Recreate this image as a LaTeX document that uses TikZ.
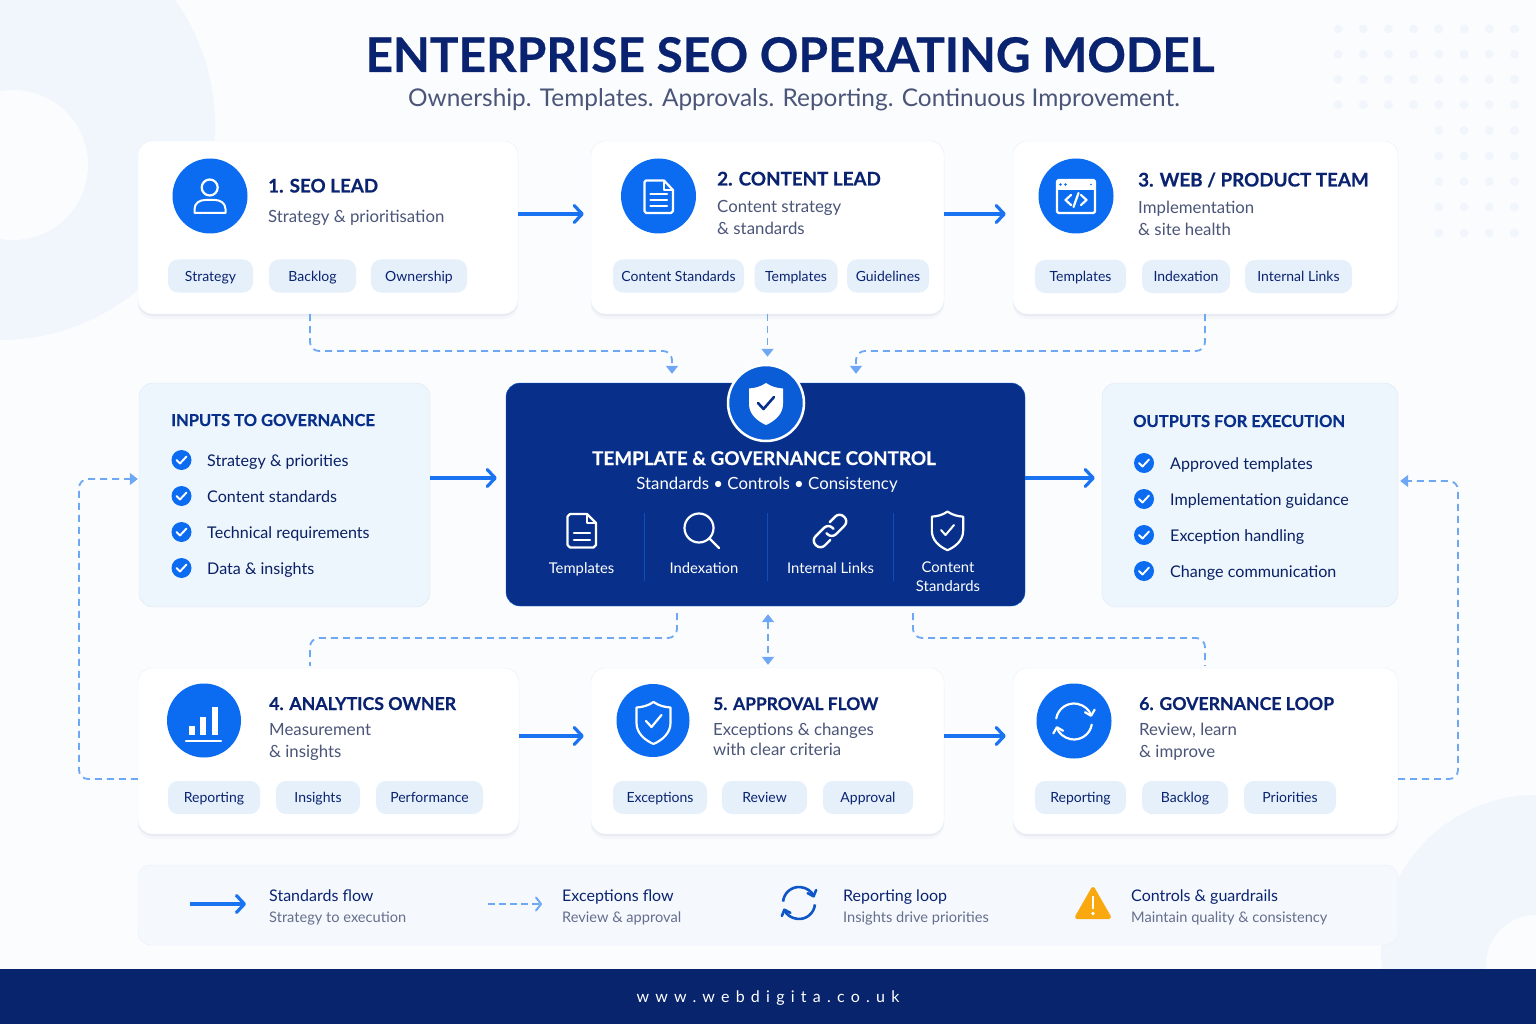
\documentclass[tikz,border=0pt]{standalone}
\usepackage{fontspec}
\setmainfont{Lato}[BoldFeatures={FakeBold=0.5}]
\newfontfamily\spacedfont[LetterSpace=39]{Lato}
\usetikzlibrary{arrows.meta,shadows,calc}

\definecolor{pagebg}{HTML}{FBFCFE}
\definecolor{blobblue}{HTML}{F1F6FD}
\definecolor{navy}{HTML}{0A2370}
\definecolor{brand}{HTML}{0B6CF1}
\definecolor{flowblue}{HTML}{1A73F0}
\definecolor{dashblue}{HTML}{6EA8F5}
\definecolor{chipfill}{HTML}{E5F0FB}
\definecolor{panelfill}{HTML}{EDF5FD}
\definecolor{panelline}{HTML}{DDE9F6}
\definecolor{centrefill}{HTML}{08308A}
\definecolor{footerfill}{HTML}{07246C}
\definecolor{subgrey}{HTML}{4A5578}
\definecolor{loopblue}{HTML}{0E55C8}
\definecolor{warnorange}{HTML}{F9A90F}

\tikzset{
  cardbox/.style={draw=panelline!70!white, fill=white, rounded corners=14pt,
    drop shadow={shadow xshift=0pt, shadow yshift=-2pt, opacity=.05, fill=navy},
    drop shadow={shadow xshift=0pt, shadow yshift=-5pt, opacity=.025, fill=navy}},
  panelbox/.style={draw=panelline, fill=panelfill, rounded corners=14pt},
  headdot/.style={circle, fill=brand, inner sep=0pt},
  cardtitle/.style={anchor=base west, inner sep=0pt, text=navy},
  cardsub/.style={anchor=base west, inner sep=0pt, text=subgrey, font=\fontsize{16.8}{16.8}\selectfont},
  chipbox/.style={fill=chipfill, rounded corners=10pt, inner sep=0pt, text=navy, text height=12pt, text depth=2pt, font=\fontsize{14}{14}\selectfont},
  itemtext/.style={anchor=base west, inner sep=0pt, text=navy!90!black, font=\fontsize{16.1}{16.1}\selectfont},
  centretext/.style={anchor=base, inner sep=0pt, text=white, font=\fontsize{14.8}{14.8}\selectfont},
  legendhead/.style={anchor=base west, inner sep=0pt, text=navy, font=\fontsize{16}{16}\selectfont},
  legendsub/.style={anchor=base west, inner sep=0pt, text=subgrey!85!white, font=\fontsize{14.6}{14.6}\selectfont},
  flowarrow/.style={draw=flowblue, line width=3.2pt, -{Straight Barb[length=8pt,width=17pt,round]}},
  dashline/.style={draw=dashblue, line width=1.8pt, dash pattern=on 7pt off 5pt, rounded corners=9pt},
  dashtip/.style={dashline, -{Triangle[length=8pt,width=12pt]}},
  iconline/.style={draw=white, line width=2.2pt, line join=round, line cap=round},
  checkdot/.pic={
    \fill[brand] (0,0) circle[radius=10];
    \draw[white, line width=1.9pt, line cap=round, line join=round] (-5,0) -- (-1.5,3.5) -- (5,-3.5);
  },
  shieldpath/.pic={
    \path[pic actions] (0,-20) .. controls (6,-16) and (11,-15) .. (17,-14.5) -- (17,1)
      .. controls (17,11) and (9,18) .. (0,22) .. controls (-9,18) and (-17,11) .. (-17,1)
      -- (-17,-14.5) .. controls (-11,-15) and (-6,-16) .. cycle;
  }
}

\begin{document}
\begin{tikzpicture}[x=1pt,y=-1pt]
\useasboundingbox (0,0) rectangle (1536,1024);

%background
\fill[pagebg] (0,0) rectangle (1536,1024);
\begin{scope}
\clip (0,0) rectangle (1536,1024);
\fill[blobblue] (0,125) circle[radius=215];
\fill[pagebg] (13,165) circle[radius=75];
\fill[blobblue] (1536,950) circle[radius=155];
\fill[pagebg] (1536,965) circle[radius=50];
\end{scope}

%dots top right
\foreach \x in {1338,1363.2,1388.4,1413.6,1438.8,1464,1489.2,1514.4}
  \foreach \y in {29,54.2,79.4,104.6}
    \fill[blobblue] (\x,\y) circle[radius=4.5];
\foreach \x in {1438.8,1464,1489.2,1514.4}
  \foreach \y in {130.5,156,181.5,207,233}
    \fill[blobblue] (\x,\y) circle[radius=4.5];

%title
\node[inner sep=0pt, anchor=base, text=navy, font=\fontsize{47.8}{47.8}\selectfont\bfseries] (title) at (790,72) {ENTERPRISE SEO OPERATING MODEL};
\node[inner sep=0pt, anchor=base, text=subgrey, font=\fontsize{24.4}{24.4}\selectfont] (subtitle) at (794,107) {Ownership. Templates. Approvals. Reporting. Continuous Improvement.};

%cards
\foreach \n/\cx/\cy/\w/\h in {card1/328/227.5/380/173, card2/767.5/227.5/353/173, card3/1205.5/227.5/385/173,
                              card4/328.5/751/381/166, card5/767.5/751/353/166, card6/1205.5/751/385/166}
  \node[cardbox, minimum width=\w pt, minimum height=\h pt] (\n) at (\cx,\cy) {};

\node[panelbox, minimum width=291pt, minimum height=224pt] (inputs) at (284.5,495) {};
\node[panelbox, minimum width=296pt, minimum height=224pt] (outputs) at (1250,495) {};
\node[draw=flowblue!70!centrefill, fill=centrefill, rounded corners=14pt, minimum width=519pt, minimum height=223pt] (centre) at (765.5,494.5) {};
\node[circle, draw=white, line width=2.5pt, fill=brand!75!centrefill, minimum size=76pt, inner sep=0pt] (badge) at (766,403) {};

%row helpers
\coordinate (toprow) at (0,214);
\coordinate (midrow) at (0,478);
\coordinate (lowrow) at (0,736);
\coordinate (jointl) at (310,351);
\coordinate (jointr) at (1205,351);
\coordinate (dropl) at (672,351);
\coordinate (dropr) at (856,351);
\coordinate (bendl) at (310,638);
\coordinate (bendr) at (1205,638);
\coordinate (risel) at (677,638);
\coordinate (riser) at (913,638);
\coordinate (sidel) at (79,779);
\coordinate (sidelb) at (79,479);
\coordinate (sider) at (1458,779);
\coordinate (siderb) at (1458,481);
\coordinate (midx) at (768,640);

%solid arrows
\draw[flowarrow, shorten >=7pt] (card1.east |- toprow) -- (card2.west |- toprow);
\draw[flowarrow, shorten >=7pt] (card2.east |- toprow) -- (card3.west |- toprow);
\draw[flowarrow, shorten >=7pt] (card4.east |- lowrow) -- (card5.west |- lowrow);
\draw[flowarrow, shorten >=7pt] (card5.east |- lowrow) -- (card6.west |- lowrow);
\draw[flowarrow, shorten >=9pt] (inputs.east |- midrow) -- (centre.west |- midrow);
\draw[flowarrow, shorten >=7pt] (centre.east |- midrow) -- (outputs.west |- midrow);

%dashed connectors
\draw[dashtip, shorten >=9pt] (card1.south -| jointl) -- (jointl) -- (dropl) -- (centre.north -| dropl);
\draw[dashtip, shorten >=7pt] (card2.south) -- (card2.south |- badge.north);
\draw[dashtip, shorten >=9pt] (card3.south -| jointr) -- (jointr) -- (dropr) -- (centre.north -| dropr);
\draw[dashline, shorten <=7pt, shorten >=2pt] (centre.south -| risel) -- (risel) -- (bendl) -- (card4.north -| bendl);
\draw[dashline, shorten <=7pt, shorten >=2pt] (centre.south -| riser) -- (riser) -- (bendr) -- (card6.north -| bendr);
\draw[dashline, {Triangle[length=8pt,width=12pt]}-{Triangle[length=8pt,width=12pt]}, shorten <=8pt, shorten >=3pt] (centre.south -| midx) -- (card5.north -| midx);
\draw[dashtip, shorten >=1pt] (card4.west |- sidel) -- (sidel) -- (sidelb) -- (inputs.west |- sidelb);
\draw[dashtip, shorten >=2pt] (card6.east |- sider) -- (sider) -- (siderb) -- (outputs.east |- siderb);

%icon circles
\foreach \n/\x/\y/\s in {head1/210/196/75, head2/658.5/196/75, head3/1076/196/75, head4/204/720.5/74, head5/653/720.5/73, head6/1074/721/75}
  \node[headdot, minimum size=\s pt] (\n) at (\x,\y) {};

%person
\draw[iconline] (209.7,187.5) circle[radius=8];
\draw[iconline, line width=2pt] (194.5,213) -- (225.5,213) -- (225.5,209) .. controls (225.5,203) and (220,200) .. (215,200) -- (205,200) .. controls (200,200) and (194.5,203) .. (194.5,209) -- cycle;

%document
\draw[iconline] (644.5,182) -- (644.5,211) -- (646,213) -- (671,213) -- (673,211) -- (673,190) -- (664,180.5) -- (646,180.5) -- cycle;
\draw[iconline, line width=1.6pt] (664,181) -- (664,190) -- (673,190);
\foreach \y in {194,200,206}
  \draw[iconline] (650.5,\y) -- (667,\y);

%browser window
\draw[iconline, rounded corners=1.5pt] (1057,180) rectangle (1095,213);
\draw[iconline] (1057,189) -- (1095,189);
\fill[white] (1057,180) rectangle (1095,189);
\fill[brand] (1060.5,184.5) circle[radius=1.4] (1065.5,184.5) circle[radius=1.4] (1091,184.5) circle[radius=.8];
\draw[iconline] (1071,195) -- (1065.5,200) -- (1071,205);
\draw[iconline] (1081,195) -- (1086.5,200) -- (1081,205);
\draw[iconline] (1078.5,193) -- (1073.5,207);

%bars
\draw[iconline] (186,741) -- (221,741);
\fill[white] (189,726) rectangle (195,735);
\fill[white] (200,717) rectangle (206,735);
\fill[white] (211.5,707) rectangle (217.5,735);

%approval shield
\pic[draw=white, line width=2.2pt, line join=round] at (653.5,722) {shieldpath};
\draw[iconline] (646,721) -- (651.5,727) -- (661.5,715);

%refresh
\draw[iconline, -{Straight Barb[length=5pt,width=10pt,round]}] (1074,721.5) ++(190:18) arc[start angle=190, end angle=345, radius=18];
\draw[iconline, -{Straight Barb[length=5pt,width=10pt,round]}] (1074,721.5) ++(10:18) arc[start angle=10, end angle=165, radius=18];

%card titles
\foreach \x/\y/\s/\t [count=\i] in {268/192.5/18.8/1. SEO LEAD, 717/185.5/18.8/2. CONTENT LEAD, 1138/186.5/18.8/{3. WEB / PRODUCT TEAM},
                                    269/710/17.7/4. ANALYTICS OWNER, 713/710/17.4/5. APPROVAL FLOW, 1139/710/17.7/6. GOVERNANCE LOOP}
  \node[cardtitle, font=\fontsize{\s}{\s}\selectfont\bfseries] (cardhead\i) at (\x,\y) {\t};

%card subtitles
\foreach \x/\y/\t [count=\i] in {268/223/Strategy \& prioritisation, 717/213/Content strategy, 717/235/\& standards,
                                 1138/214/Implementation, 1138/236/\& site health,
                                 269/735/Measurement, 269/757/\& insights,
                                 713/735/Exceptions \& changes, 713/755/with clear criteria,
                                 {1139/735/Review, learn}, 1139/757/\& improve}
  \node[cardsub] (cardsub\i) at (\x,\y) {\t};

%chips
\foreach \x/\y/\w/\t [count=\i] in {
    210.5/276/85/Strategy, 312.5/276/87/Backlog, 419/276/96/Ownership,
    678.5/276/131/Content Standards, 796/276/83/Templates, 888/276/82/Guidelines,
    1080.5/276.5/91/Templates, 1186/276.5/88/Indexation, 1298.5/276.5/107/Internal Links,
    214/797.5/92/Reporting, 318/797.5/84/Insights, 429.5/797.5/107/Performance,
    660/797.5/94/Exceptions, 764.5/797.5/85/Review, 868/797.5/90/Approval,
    1080.5/797.5/91/Reporting, 1185/797.5/86/Backlog, 1290/797.5/92/Priorities}
  \node[chipbox, minimum width=\w pt, minimum height=33pt] (chip\i) at (\x,\y) {\t};

%inputs panel
\node[anchor=base west, inner sep=0pt, text=centrefill, font=\fontsize{16.5}{16.5}\selectfont\bfseries] (inputhead) at (171,426) {INPUTS TO GOVERNANCE};
\foreach \y/\t [count=\i] in {460/Strategy \& priorities, 496/Content standards, 532/Technical requirements, 568/Data \& insights} {
  \pic at (181.5,\y) {checkdot};
  \node[itemtext] (input\i) at (207,\y+6.5) {\t};
}

%outputs panel
\node[anchor=base west, inner sep=0pt, text=centrefill, font=\fontsize{16.5}{16.5}\selectfont\bfseries] (outputhead) at (1133,427) {OUTPUTS FOR EXECUTION};
\foreach \y/\t [count=\i] in {463/Approved templates, 499/Implementation guidance, 535/Exception handling, 571/Change communication} {
  \pic at (1144,\y) {checkdot};
  \node[itemtext] (output\i) at (1170,\y+6) {\t};
}

%centre box
\pic[fill=white] at (766,403) {shieldpath};
\draw[centrefill, line width=2.6pt, line cap=round, line join=round] (758,403) -- (763.5,409) -- (774,397);
\node[centretext, font=\fontsize{18.9}{18.9}\selectfont\bfseries] (centrehead) at (764,465) {TEMPLATE \& GOVERNANCE CONTROL};
\node[centretext, font=\fontsize{16.8}{16.8}\selectfont] (centresub) at (767,489) {Standards • Controls • Consistency};

\foreach \x in {644,767,893}
  \draw[flowblue!45!centrefill, line width=1pt] (\x,513) -- (\x,581);

\draw[iconline] (567.5,516.5) -- (567.5,545) -- (570,547.5) -- (593.5,547.5) -- (596,545) -- (596,523) -- (587,514) -- (570,514) -- cycle;
\draw[iconline, line width=1.6pt] (587,514.5) -- (587,523) -- (596,523);
\foreach \y in {533,540}
  \draw[iconline] (574,\y) -- (590,\y);

\draw[iconline] (699,528) circle[radius=14.5];
\draw[iconline] (709.5,538.5) -- (719,548);

\begin{scope}[shift={(830,531)},rotate=45]
\draw[iconline, line width=2.4pt, rounded corners=6pt] (-6,6.5) -- (-20,6.5) -- (-20,-6.5) -- (4,-6.5) -- (4,1);
\draw[iconline, line width=2.4pt, rounded corners=6pt] (6,-6.5) -- (20,-6.5) -- (20,6.5) -- (-4,6.5) -- (-4,-1);
\end{scope}

\pic[draw=white, line width=2.2pt, line join=round, scale=.92] at (947.5,530) {shieldpath};
\draw[iconline, line width=2pt] (941,530) -- (945.5,535) -- (954,525);

\node[centretext] (temptext) at (581.5,573) {Templates};
\node[centretext] (indextext) at (704,573) {Indexation};
\node[centretext] (linktext) at (830.5,573) {Internal Links};
\node[centretext] (contenttext) at (948,572) {Content};
\node[centretext] (standtext) at (948,591) {Standards};

%legend
\node[draw=panelline!70!white, fill=pagebg!60!panelfill, rounded corners=13pt, minimum width=1260pt, minimum height=80pt] (legend) at (768,905) {};

\coordinate (legaa) at (190,904);
\coordinate (legab) at (246,904);
\coordinate (legba) at (488,904);
\coordinate (legbb) at (542,904);
\draw[flowarrow] (legaa) -- (legab);
\draw[draw=dashblue, line width=2pt, dash pattern=on 7pt off 4pt, -{Straight Barb[length=5pt,width=13pt,round]}] (legba) -- (legbb);

\draw[loopblue, line width=2.6pt, -{Straight Barb[length=5pt,width=9pt,round]}] (799,903) ++(185:16) arc[start angle=185, end angle=340, radius=16];
\draw[loopblue, line width=2.6pt, -{Straight Barb[length=5pt,width=9pt,round]}] (799,903) ++(5:16) arc[start angle=5, end angle=160, radius=16];

\draw[warnorange, fill=warnorange, line width=4pt, line join=round] (1093,889) -- (1109,917) -- (1077,917) -- cycle;
\fill[white] (1091.6,896) rectangle (1094.4,909);
\fill[white] (1093,913.5) circle[radius=1.8];

\foreach \x/\a/\b [count=\i] in {269/Standards flow/Strategy to execution, 562/Exceptions flow/Review \& approval,
                                 843/Reporting loop/Insights drive priorities, 1131/Controls \& guardrails/Maintain quality \& consistency} {
  \node[legendhead] (leghead\i) at (\x,901.5) {\a};
  \node[legendsub] (legsub\i) at (\x,922) {\b};
}

%footer
\fill[footerfill] (0,969) rectangle (1536,1024);
\node[inner sep=0pt, anchor=base, text=white, font=\spacedfont\fontsize{16}{16}\selectfont] (footertext) at (768,1002) {www.webdigita.co.uk};

\end{tikzpicture}
\end{document}
